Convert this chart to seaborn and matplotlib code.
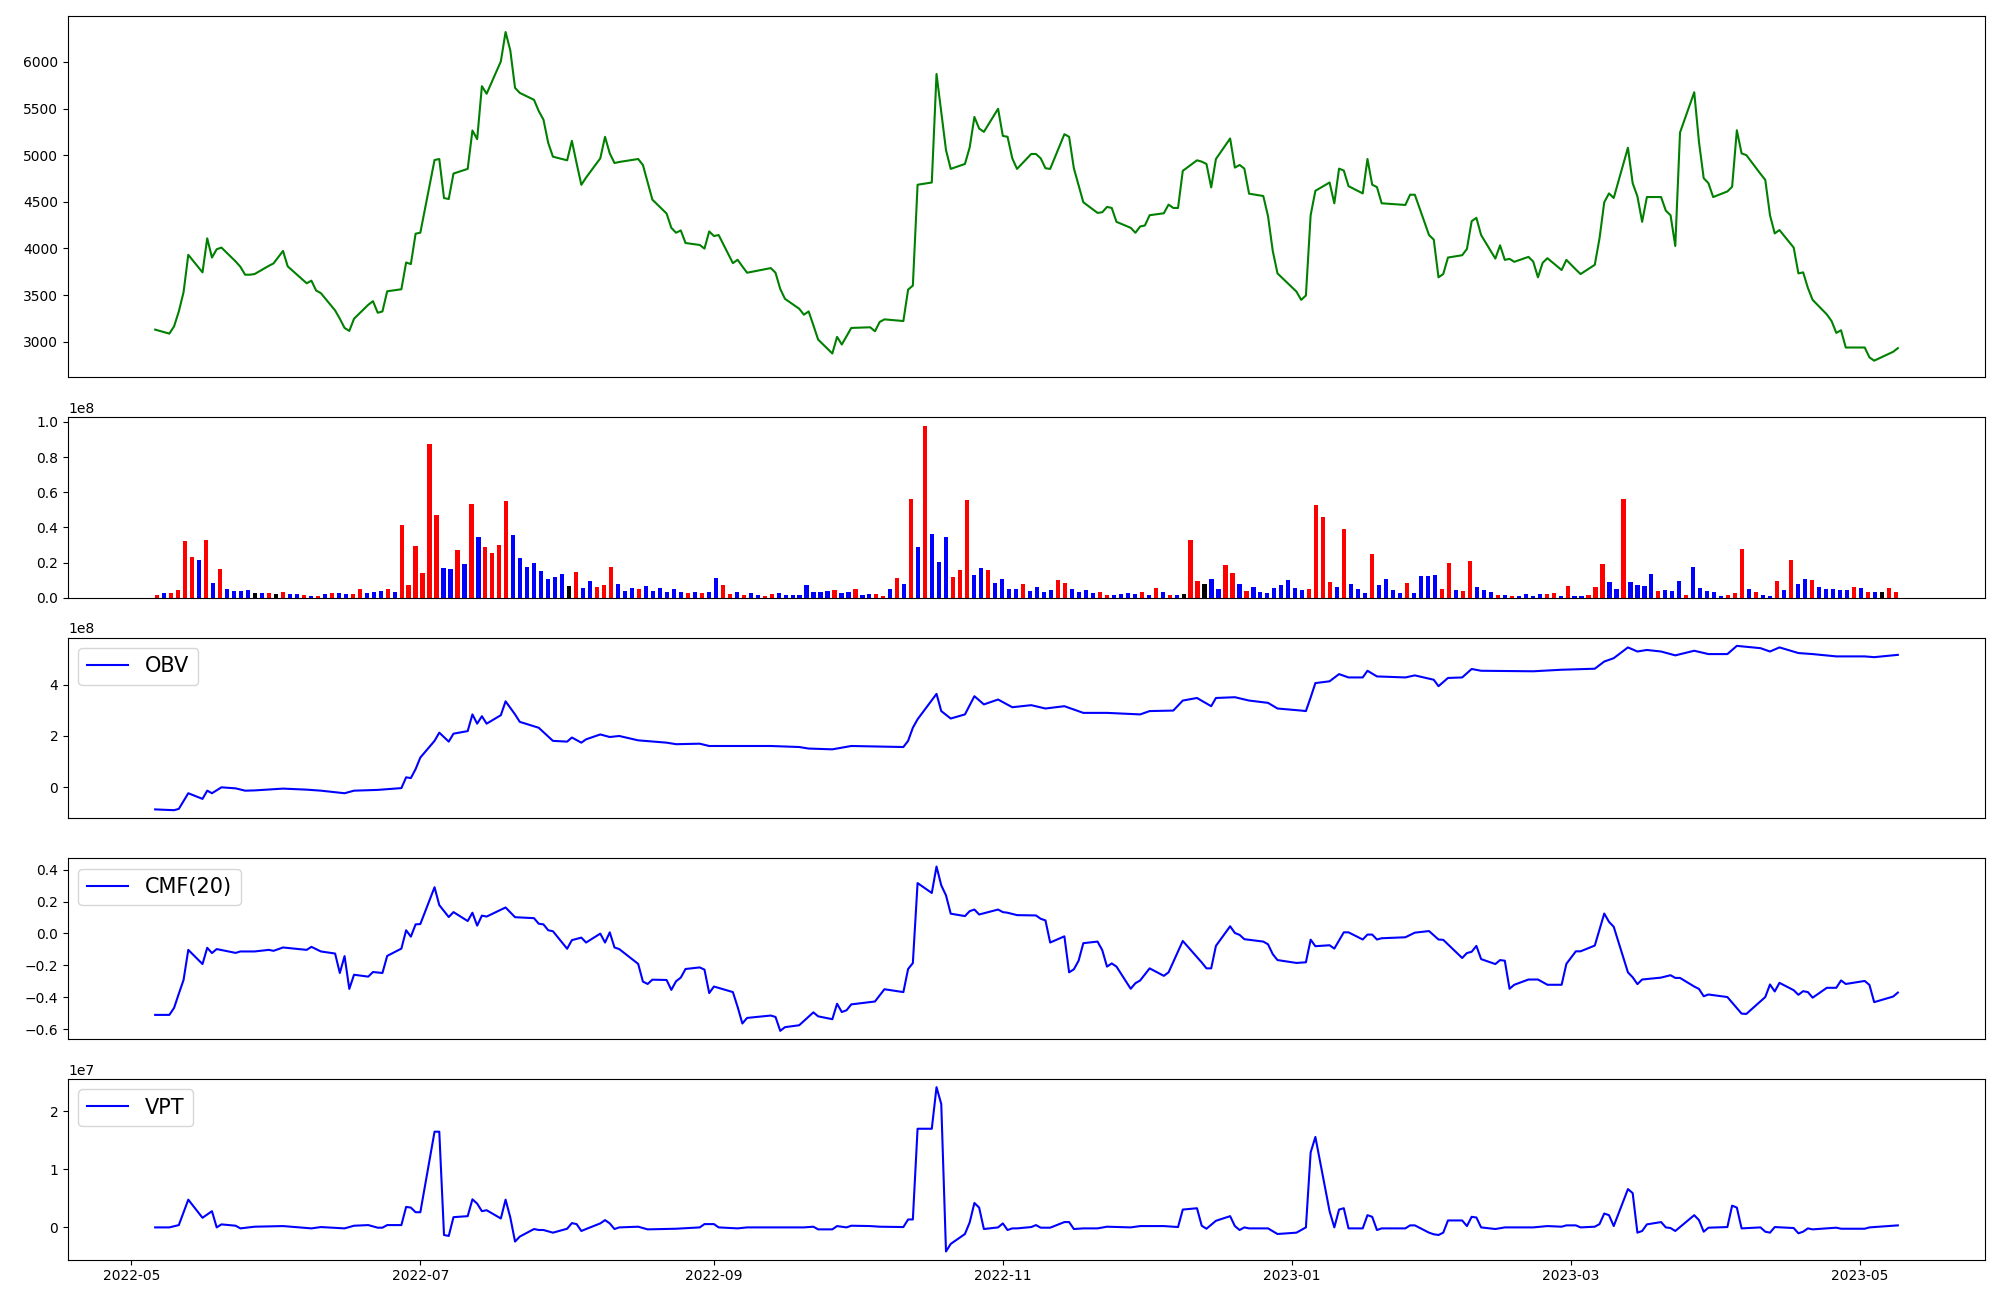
import pandas as pd
import seaborn as sns
import matplotlib
matplotlib.use("Agg")
import matplotlib.pyplot as plt

# trading calendar (KRX) covered by the chart
start_day, end_day = "2022-05-06", "2023-05-09"
market_holidays = ["2022-06-01", "2022-06-06", "2022-08-15", "2022-09-09", "2022-09-12",
                   "2022-10-03", "2022-10-10", "2022-12-30", "2023-01-23", "2023-01-24",
                   "2023-03-01", "2023-05-01", "2023-05-05"]

# daily close
close = [3129, 3086, 3164, 3324, 3530, 3931, 3743, 4108, 3902, 3991,
         4009, 3860, 3803, 3718, 3718, 3725, 3813, 3839, 3973, 3807,
         3626, 3654, 3548, 3520, 3335, 3246, 3147, 3115, 3246, 3395,
         3434, 3310, 3324, 3540, 3562, 3849, 3832, 4158, 4169, 4948,
         4959, 4540, 4530, 4803, 4853, 5265, 5172, 5740, 5659, 6006,
         6321, 6123, 5722, 5668, 5594, 5474, 5381, 5133, 4984, 4945,
         5154, 4913, 4682, 4760, 4966, 5197, 5019, 4916, 4927, 4959,
         4895, 4711, 4523, 4374, 4221, 4168, 4193, 4058, 4037, 3998,
         4182, 4133, 4143, 3842, 3878, 3807, 3739, 3789, 3739, 3565,
         3459, 3353, 3289, 3324, 3175, 3022, 2873, 3051, 2969, 3058,
         3147, 3154, 3111, 3211, 3239, 3221, 3558, 3601, 4683, 4707,
         5871, 5463, 5055, 4853, 4906, 5083, 5410, 5286, 5250, 5498,
         5207, 5197, 4966, 4853, 5013, 5013, 4966, 4860, 4853, 5225,
         5197, 4860, 4676, 4495, 4381, 4388, 4445, 4434, 4285, 4221,
         4168, 4235, 4246, 4356, 4377, 4470, 4434, 4434, 4832, 4945,
         4931, 4906, 4654, 4959, 5179, 4867, 4895, 4856, 4587, 4562,
         4346, 3973, 3732, 3537, 3448, 3495, 4356, 4618, 4707, 4484,
         4856, 4835, 4668, 4590, 4959, 4683, 4658, 4484, 4466, 4576,
         4576, 4143, 4094, 3690, 3725, 3902, 3927, 3994, 4292, 4328,
         4143, 3891, 4033, 3877, 3888, 3856, 3909, 3859, 3690, 3846,
         3895, 3768, 3877, 3774, 3725, 3824, 4108, 4495, 4590, 4541,
         5080, 4700, 4558, 4285, 4551, 4551, 4405, 4356, 4026, 5243,
         5675, 5143, 4753, 4700, 4551, 4611, 4661, 5267, 5019, 5001,
         4799, 4735, 4356, 4161, 4197, 4009, 3732, 3743, 3576, 3448,
         3292, 3221, 3094, 3122, 2937, 2937, 2831, 2796, 2891, 2930]

# daily volume, millions of shares
volume_m = [1.7, 2.8, 2.8, 4.5, 32.3, 23.2, 21.5, 32.8, 8.5, 16.4,
            5.1, 4.0, 4.0, 4.5, 2.8, 2.8, 2.8, 2.3, 3.4, 2.3,
            2.3, 1.7, 1.1, 1.1, 2.3, 2.8, 2.8, 2.3, 2.3, 5.1,
            2.8, 3.4, 4.0, 5.1, 3.4, 41.3, 7.4, 29.4, 14.2, 87.7,
            47.0, 17.0, 16.4, 27.2, 19.2, 53.2, 34.5, 28.9, 25.5, 30.0,
            54.9, 35.7, 22.6, 17.5, 19.8, 15.3, 10.8, 11.9, 13.6, 6.8,
            14.7, 5.7, 9.6, 6.2, 7.4, 17.5, 7.9, 4.0, 5.7, 5.1,
            6.8, 4.0, 5.7, 3.4, 5.1, 3.4, 2.8, 3.4, 2.8, 3.4,
            11.3, 7.4, 2.3, 3.4, 1.7, 2.8, 1.7, 1.1, 2.3, 2.8,
            1.7, 1.7, 1.7, 7.4, 3.4, 3.4, 4.0, 4.5, 2.8, 3.4,
            5.1, 1.7, 2.3, 2.3, 1.1, 5.1, 11.3, 7.9, 56.0, 28.9,
            97.9, 36.2, 20.4, 34.5, 11.9, 15.8, 55.5, 13.0, 17.0, 15.8,
            8.5, 10.8, 5.1, 5.1, 7.9, 4.0, 6.2, 3.4, 4.5, 10.2,
            8.5, 5.1, 3.4, 4.5, 2.8, 3.4, 1.7, 1.7, 2.3, 2.8,
            2.3, 3.4, 1.7, 5.7, 3.4, 1.7, 1.7, 2.3, 32.8, 9.6,
            7.9, 10.8, 5.1, 18.7, 14.2, 7.9, 4.0, 6.2, 3.4, 2.8,
            5.7, 7.4, 10.2, 5.7, 4.5, 5.1, 52.6, 45.8, 9.1, 6.2,
            39.1, 7.9, 5.1, 2.8, 24.9, 7.4, 10.8, 4.5, 2.8, 8.5,
            2.8, 12.5, 12.5, 13.0, 5.1, 19.8, 4.5, 4.0, 20.9, 6.2,
            4.5, 3.4, 1.7, 1.7, 1.1, 1.1, 2.3, 1.1, 2.3, 2.3,
            2.8, 1.1, 6.8, 1.1, 1.1, 1.7, 6.2, 19.2, 9.1, 5.1,
            56.0, 9.1, 7.4, 6.8, 13.6, 4.0, 4.5, 4.0, 9.6, 1.7,
            17.5, 5.7, 4.0, 3.4, 1.1, 1.7, 2.8, 27.7, 5.1, 3.4,
            1.7, 1.1, 9.6, 4.5, 21.5, 7.9, 10.8, 10.2, 6.2, 5.1,
            5.1, 4.5, 4.5, 6.2, 5.7, 3.4, 3.4, 3.4, 5.7, 3.4]

# r = up day, b = down day, k = unchanged
volume_dir = ("rbrrrrbrbr" "bbbbkbrkrb" "brbrbrbbrr" "bbbrbrrrrr" "rbbrbrbrrr"
              "rbbbbbbbbk" "rbbrrrbbbr" "bbbbbbrbrb" "brrbrbbrrb" "bbbbbbbrbb"
              "rbbrrbrbrb" "rbbbrrrbbr" "bbbbrbbbbr" "rbbbbrrbbb" "brbrbrbkrr"
              "kbbrrbrbbb" "bbbbbrrrrb" "rbbbrbbbbr" "bbbbrrbrrb" "bbrbrbbbbr"
              "rbrbbrrrbb" "rbbbbrbbbr" "bbbbbrrrbr" "bbrbrbbrbb" "bbbrbrbkrr")

# OBV, in units of 1e8
obv_dates = ["2022-05-06", "2022-05-10", "2022-05-11", "2022-05-13", "2022-05-16", "2022-05-17",
             "2022-05-18", "2022-05-20", "2022-05-23", "2022-05-25", "2022-05-27", "2022-06-02",
             "2022-06-07", "2022-06-10", "2022-06-15", "2022-06-17", "2022-06-22", "2022-06-27",
             "2022-06-28", "2022-06-29", "2022-06-30", "2022-07-01", "2022-07-04", "2022-07-05",
             "2022-07-07", "2022-07-08", "2022-07-11", "2022-07-12", "2022-07-13", "2022-07-14",
             "2022-07-15", "2022-07-18", "2022-07-19", "2022-07-21", "2022-07-22", "2022-07-26",
             "2022-07-29", "2022-08-01", "2022-08-02", "2022-08-04", "2022-08-05", "2022-08-08",
             "2022-08-10", "2022-08-12", "2022-08-16", "2022-08-22", "2022-08-24", "2022-08-29",
             "2022-08-31", "2022-09-13", "2022-09-19", "2022-09-21", "2022-09-26", "2022-09-30",
             "2022-10-11", "2022-10-12", "2022-10-13", "2022-10-14", "2022-10-18", "2022-10-19",
             "2022-10-21", "2022-10-24", "2022-10-26", "2022-10-28", "2022-10-31", "2022-11-03",
             "2022-11-07", "2022-11-10", "2022-11-14", "2022-11-18", "2022-11-23", "2022-11-30",
             "2022-12-02", "2022-12-07", "2022-12-09", "2022-12-12", "2022-12-15", "2022-12-16",
             "2022-12-20", "2022-12-23", "2022-12-27", "2022-12-29", "2023-01-03", "2023-01-04",
             "2023-01-05", "2023-01-06", "2023-01-09", "2023-01-11", "2023-01-13", "2023-01-16",
             "2023-01-17", "2023-01-19", "2023-01-25", "2023-01-27", "2023-01-31", "2023-02-01",
             "2023-02-03", "2023-02-06", "2023-02-08", "2023-02-10", "2023-02-21", "2023-02-27",
             "2023-03-06", "2023-03-08", "2023-03-10", "2023-03-13", "2023-03-15", "2023-03-17",
             "2023-03-20", "2023-03-23", "2023-03-27", "2023-03-30", "2023-04-03", "2023-04-05",
             "2023-04-10", "2023-04-12", "2023-04-14", "2023-04-18", "2023-04-21", "2023-04-26",
             "2023-05-02", "2023-05-04", "2023-05-09"]
obv_vals = [-0.86, -0.89, -0.84, -0.23, -0.45, -0.13,
            -0.23, 0.00, -0.04, -0.13, -0.12, -0.05,
            -0.09, -0.13, -0.23, -0.13, -0.10, -0.03,
            0.39, 0.36, 0.71, 1.16, 1.81, 2.13,
            1.78, 2.09, 2.19, 2.84, 2.48, 2.77,
            2.48, 2.81, 3.35, 2.84, 2.55, 2.32,
            1.81, 1.78, 1.94, 1.74, 1.87, 2.06,
            1.96, 2.00, 1.83, 1.74, 1.68, 1.70,
            1.61, 1.61, 1.57, 1.51, 1.48, 1.61,
            1.57, 1.81, 2.32, 2.65, 3.64, 2.97,
            2.68, 2.84, 3.55, 3.23, 3.42, 3.12,
            3.20, 3.07, 3.16, 2.90, 2.90, 2.84,
            2.97, 2.99, 3.38, 3.48, 3.16, 3.48,
            3.51, 3.38, 3.29, 3.07, 2.99, 2.97,
            3.50, 4.06, 4.13, 4.41, 4.28, 4.28,
            4.54, 4.32, 4.28, 4.36, 4.19, 3.94,
            4.26, 4.28, 4.61, 4.54, 4.52, 4.58,
            4.62, 4.90, 5.03, 5.45, 5.29, 5.35,
            5.29, 5.14, 5.32, 5.19, 5.19, 5.51,
            5.42, 5.29, 5.45, 5.23, 5.19, 5.10,
            5.10, 5.07, 5.16]

# CMF(20)
cmf_dates = ["2022-05-06", "2022-05-09", "2022-05-10", "2022-05-11", "2022-05-12", "2022-05-13",
             "2022-05-16", "2022-05-17", "2022-05-18", "2022-05-19", "2022-05-23", "2022-05-24",
             "2022-05-27", "2022-05-30", "2022-05-31", "2022-06-02", "2022-06-07", "2022-06-08",
             "2022-06-10", "2022-06-13", "2022-06-14", "2022-06-15", "2022-06-16", "2022-06-17",
             "2022-06-20", "2022-06-21", "2022-06-23", "2022-06-24", "2022-06-27", "2022-06-28",
             "2022-06-29", "2022-06-30", "2022-07-01", "2022-07-04", "2022-07-05", "2022-07-07",
             "2022-07-08", "2022-07-11", "2022-07-12", "2022-07-13", "2022-07-14", "2022-07-15",
             "2022-07-19", "2022-07-21", "2022-07-25", "2022-07-26", "2022-07-27", "2022-07-28",
             "2022-07-29", "2022-08-01", "2022-08-02", "2022-08-04", "2022-08-05", "2022-08-08",
             "2022-08-09", "2022-08-10", "2022-08-11", "2022-08-12", "2022-08-16", "2022-08-17",
             "2022-08-18", "2022-08-19", "2022-08-22", "2022-08-23", "2022-08-24", "2022-08-25",
             "2022-08-26", "2022-08-29", "2022-08-30", "2022-08-31", "2022-09-01", "2022-09-05",
             "2022-09-06", "2022-09-07", "2022-09-08", "2022-09-13", "2022-09-14", "2022-09-15",
             "2022-09-16", "2022-09-19", "2022-09-22", "2022-09-23", "2022-09-26", "2022-09-27",
             "2022-09-28", "2022-09-29", "2022-09-30", "2022-10-05", "2022-10-07", "2022-10-11",
             "2022-10-12", "2022-10-13", "2022-10-14", "2022-10-17", "2022-10-18", "2022-10-19",
             "2022-10-20", "2022-10-21", "2022-10-24", "2022-10-25", "2022-10-26", "2022-10-27",
             "2022-10-31", "2022-11-01", "2022-11-02", "2022-11-04", "2022-11-08", "2022-11-09",
             "2022-11-10", "2022-11-11", "2022-11-14", "2022-11-15", "2022-11-16", "2022-11-17",
             "2022-11-18", "2022-11-21", "2022-11-22", "2022-11-23", "2022-11-24", "2022-11-25",
             "2022-11-28", "2022-11-29", "2022-11-30", "2022-12-02", "2022-12-05", "2022-12-06",
             "2022-12-09", "2022-12-13", "2022-12-14", "2022-12-15", "2022-12-16", "2022-12-19",
             "2022-12-20", "2022-12-21", "2022-12-22", "2022-12-26", "2022-12-27", "2022-12-28",
             "2022-12-29", "2023-01-02", "2023-01-04", "2023-01-05", "2023-01-06", "2023-01-09",
             "2023-01-10", "2023-01-12", "2023-01-13", "2023-01-16", "2023-01-17", "2023-01-18",
             "2023-01-19", "2023-01-20", "2023-01-25", "2023-01-27", "2023-01-30", "2023-02-01",
             "2023-02-02", "2023-02-06", "2023-02-07", "2023-02-08", "2023-02-09", "2023-02-10",
             "2023-02-13", "2023-02-14", "2023-02-15", "2023-02-16", "2023-02-17", "2023-02-20",
             "2023-02-22", "2023-02-24", "2023-02-27", "2023-02-28", "2023-03-02", "2023-03-03",
             "2023-03-06", "2023-03-08", "2023-03-09", "2023-03-10", "2023-03-13", "2023-03-14",
             "2023-03-15", "2023-03-16", "2023-03-20", "2023-03-22", "2023-03-23", "2023-03-24",
             "2023-03-27", "2023-03-28", "2023-03-29", "2023-03-30", "2023-04-03", "2023-04-06",
             "2023-04-07", "2023-04-11", "2023-04-12", "2023-04-13", "2023-04-14", "2023-04-17",
             "2023-04-18", "2023-04-19", "2023-04-20", "2023-04-21", "2023-04-24", "2023-04-26",
             "2023-04-27", "2023-04-28", "2023-05-02", "2023-05-03", "2023-05-04", "2023-05-08",
             "2023-05-09"]
cmf_vals = [-0.511, -0.511, -0.467, -0.378, -0.292, -0.103,
            -0.192, -0.090, -0.123, -0.098, -0.122, -0.113,
            -0.113, -0.103, -0.109, -0.088, -0.103, -0.084,
            -0.113, -0.126, -0.248, -0.142, -0.348, -0.259,
            -0.271, -0.242, -0.248, -0.141, -0.095, 0.020,
            -0.020, 0.057, 0.059, 0.290, 0.178, 0.103,
            0.134, 0.078, 0.130, 0.049, 0.112, 0.106,
            0.163, 0.102, 0.096, 0.061, 0.057, 0.020,
            0.014, -0.096, -0.042, -0.026, -0.057, -0.001,
            -0.057, 0.007, -0.088, -0.098, -0.191, -0.302,
            -0.317, -0.290, -0.292, -0.354, -0.300, -0.277,
            -0.223, -0.213, -0.227, -0.374, -0.333, -0.368,
            -0.461, -0.565, -0.530, -0.515, -0.524, -0.611,
            -0.588, -0.576, -0.495, -0.520, -0.538, -0.441,
            -0.493, -0.482, -0.445, -0.427, -0.350, -0.368,
            -0.223, -0.186, 0.316, 0.254, 0.420, 0.302,
            0.239, 0.124, 0.109, 0.140, 0.150, 0.119,
            0.150, 0.134, 0.130, 0.115, 0.113, 0.092,
            0.082, -0.057, -0.018, -0.244, -0.225, -0.171,
            -0.061, -0.051, -0.105, -0.208, -0.188, -0.208,
            -0.347, -0.312, -0.295, -0.219, -0.266, -0.244,
            -0.047, -0.182, -0.219, -0.219, -0.078, 0.045,
            0.003, -0.009, -0.036, -0.051, -0.068, -0.130,
            -0.167, -0.185, -0.181, -0.039, -0.080, -0.074,
            -0.095, 0.007, 0.007, -0.038, -0.007, -0.007,
            -0.038, -0.030, -0.024, 0.005, 0.015, -0.038,
            -0.040, -0.154, -0.123, -0.115, -0.078, -0.161,
            -0.192, -0.167, -0.171, -0.347, -0.322, -0.289,
            -0.289, -0.322, -0.322, -0.191, -0.112, -0.112,
            -0.076, 0.125, 0.073, 0.042, -0.244, -0.275,
            -0.318, -0.289, -0.277, -0.262, -0.279, -0.279,
            -0.333, -0.348, -0.394, -0.383, -0.399, -0.503,
            -0.505, -0.399, -0.320, -0.364, -0.310, -0.356,
            -0.385, -0.362, -0.368, -0.403, -0.341, -0.341,
            -0.295, -0.317, -0.298, -0.323, -0.431, -0.396,
            -0.371]

# VPT, in units of 1e7
vpt_dates = ["2022-05-06", "2022-05-09", "2022-05-11", "2022-05-13", "2022-05-16", "2022-05-18",
             "2022-05-19", "2022-05-20", "2022-05-23", "2022-05-24", "2022-05-27", "2022-06-02",
             "2022-06-08", "2022-06-10", "2022-06-15", "2022-06-17", "2022-06-20", "2022-06-22",
             "2022-06-23", "2022-06-24", "2022-06-27", "2022-06-28", "2022-06-29", "2022-06-30",
             "2022-07-01", "2022-07-04", "2022-07-05", "2022-07-06", "2022-07-07", "2022-07-08",
             "2022-07-11", "2022-07-12", "2022-07-13", "2022-07-14", "2022-07-15", "2022-07-18",
             "2022-07-19", "2022-07-20", "2022-07-21", "2022-07-22", "2022-07-25", "2022-07-26",
             "2022-07-27", "2022-07-29", "2022-08-01", "2022-08-02", "2022-08-03", "2022-08-04",
             "2022-08-05", "2022-08-08", "2022-08-09", "2022-08-10", "2022-08-11", "2022-08-12",
             "2022-08-16", "2022-08-18", "2022-08-24", "2022-08-29", "2022-08-30", "2022-09-01",
             "2022-09-02", "2022-09-06", "2022-09-08", "2022-09-13", "2022-09-20", "2022-09-22",
             "2022-09-23", "2022-09-26", "2022-09-27", "2022-09-29", "2022-09-30", "2022-10-04",
             "2022-10-06", "2022-10-11", "2022-10-12", "2022-10-13", "2022-10-14", "2022-10-17",
             "2022-10-18", "2022-10-19", "2022-10-20", "2022-10-21", "2022-10-24", "2022-10-25",
             "2022-10-26", "2022-10-27", "2022-10-28", "2022-10-31", "2022-11-01", "2022-11-02",
             "2022-11-03", "2022-11-04", "2022-11-07", "2022-11-08", "2022-11-09", "2022-11-11",
             "2022-11-14", "2022-11-15", "2022-11-16", "2022-11-18", "2022-11-21", "2022-11-23",
             "2022-11-28", "2022-11-30", "2022-12-05", "2022-12-08", "2022-12-09", "2022-12-12",
             "2022-12-13", "2022-12-14", "2022-12-16", "2022-12-19", "2022-12-20", "2022-12-21",
             "2022-12-22", "2022-12-23", "2022-12-27", "2022-12-29", "2023-01-02", "2023-01-04",
             "2023-01-05", "2023-01-06", "2023-01-09", "2023-01-10", "2023-01-11", "2023-01-12",
             "2023-01-13", "2023-01-16", "2023-01-17", "2023-01-18", "2023-01-19", "2023-01-20",
             "2023-01-25", "2023-01-26", "2023-01-27", "2023-01-30", "2023-01-31", "2023-02-01",
             "2023-02-02", "2023-02-03", "2023-02-06", "2023-02-07", "2023-02-08", "2023-02-09",
             "2023-02-10", "2023-02-13", "2023-02-15", "2023-02-17", "2023-02-21", "2023-02-24",
             "2023-02-27", "2023-02-28", "2023-03-02", "2023-03-03", "2023-03-06", "2023-03-07",
             "2023-03-08", "2023-03-09", "2023-03-10", "2023-03-13", "2023-03-14", "2023-03-15",
             "2023-03-16", "2023-03-17", "2023-03-20", "2023-03-21", "2023-03-22", "2023-03-23",
             "2023-03-27", "2023-03-28", "2023-03-29", "2023-03-30", "2023-04-03", "2023-04-04",
             "2023-04-05", "2023-04-06", "2023-04-10", "2023-04-11", "2023-04-12", "2023-04-13",
             "2023-04-17", "2023-04-18", "2023-04-19", "2023-04-20", "2023-04-21", "2023-04-26",
             "2023-04-27", "2023-05-02", "2023-05-03", "2023-05-04", "2023-05-09"]
vpt_vals = [-0.006, -0.006, 0.034, 0.473, 0.160, 0.274,
            -0.006, 0.046, 0.023, -0.023, 0.006, 0.017,
            -0.023, 0.000, -0.023, 0.023, 0.034, -0.011,
            -0.011, 0.034, 0.034, 0.348, 0.336, 0.256,
            0.256, 1.647, 1.647, -0.137, -0.154, 0.171,
            0.188, 0.479, 0.405, 0.274, 0.291, 0.148,
            0.473, 0.165, -0.251, -0.165, -0.034, -0.051,
            -0.051, -0.097, -0.029, 0.068, 0.051, -0.068,
            -0.034, 0.063, 0.120, 0.063, -0.034, -0.006,
            0.006, -0.040, -0.029, -0.006, 0.051, 0.051,
            -0.006, -0.023, -0.006, -0.006, -0.006, 0.006,
            -0.040, -0.040, 0.017, -0.006, 0.023, 0.017,
            0.006, 0.000, 0.131, 0.131, 1.698, 1.698,
            2.416, 2.125, -0.422, -0.291, -0.120, 0.080,
            0.416, 0.336, -0.034, -0.006, 0.063, -0.051,
            -0.023, -0.023, 0.000, 0.034, -0.011, -0.011,
            0.086, 0.086, -0.034, -0.023, -0.023, 0.006,
            -0.006, 0.017, 0.017, 0.000, 0.302, 0.325,
            0.023, -0.029, 0.108, 0.188, 0.017, -0.051,
            -0.006, -0.023, -0.023, -0.120, -0.097, -0.006,
            1.288, 1.556, 0.274, -0.006, 0.302, 0.325,
            -0.023, -0.023, 0.205, 0.177, -0.051, -0.023,
            -0.023, 0.029, 0.029, -0.097, -0.125, -0.137,
            -0.097, 0.114, 0.114, 0.017, 0.177, 0.165,
            -0.006, -0.034, -0.006, -0.006, -0.006, 0.017,
            0.006, 0.029, 0.029, -0.006, 0.006, 0.051,
            0.234, 0.205, 0.017, 0.655, 0.587, -0.097,
            -0.068, 0.046, 0.086, -0.006, -0.017, -0.068,
            0.205, 0.120, -0.080, -0.011, 0.000, 0.370,
            0.336, -0.023, -0.006, -0.080, -0.097, 0.000,
            -0.017, -0.108, -0.080, -0.023, -0.040, -0.011,
            -0.029, -0.029, -0.006, 0.000, 0.029]

dates = pd.bdate_range(start_day, end_day)
dates = dates[~dates.isin(pd.to_datetime(market_holidays))]

fig = plt.figure(figsize=(20, 13), dpi=100)
gs = fig.add_gridspec(5, 1, height_ratios=[2, 1, 1, 1, 1], left=0.034, right=0.9925,
                      top=0.988, bottom=0.031, hspace=0.184)
ax1 = fig.add_subplot(gs[0])
ax2 = fig.add_subplot(gs[1])
ax3 = fig.add_subplot(gs[2], sharex=ax1)
ax4 = fig.add_subplot(gs[3], sharex=ax1)
ax5 = fig.add_subplot(gs[4], sharex=ax1)

# price
sns.lineplot(x=dates, y=close, ax=ax1, color="green")

# volume bars, coloured by direction, one slot per trading day
vol_colors = {"r": "red", "b": "blue", "k": "black"}
sns.barplot(x=list(range(len(volume_m))), y=[v * 1e6 for v in volume_m],
            hue=list(volume_dir), palette=vol_colors, native_scale=True,
            width=0.6, dodge=False, saturation=1, legend=False, ax=ax2)
ax2.set_xticks([])

sns.lineplot(x=pd.to_datetime(obv_dates), y=[v * 1e8 for v in obv_vals],
             ax=ax3, color="blue", label="OBV")
sns.lineplot(x=pd.to_datetime(cmf_dates), y=cmf_vals,
             ax=ax4, color="blue", label="CMF(20)")
sns.lineplot(x=pd.to_datetime(vpt_dates), y=[v * 1e7 for v in vpt_vals],
             ax=ax5, color="blue", label="VPT")

for ax in (ax3, ax4, ax5):
    ax.legend(loc="upper left", fontsize=15)

for ax in (ax1, ax2, ax3, ax4, ax5):
    ax.set_xlabel("")
    ax.set_ylabel("")
# only the bottom panel keeps its date axis
for ax in (ax1, ax3, ax4):
    ax.tick_params(bottom=False, labelbottom=False)

fig.savefig("out.png", dpi=100)
